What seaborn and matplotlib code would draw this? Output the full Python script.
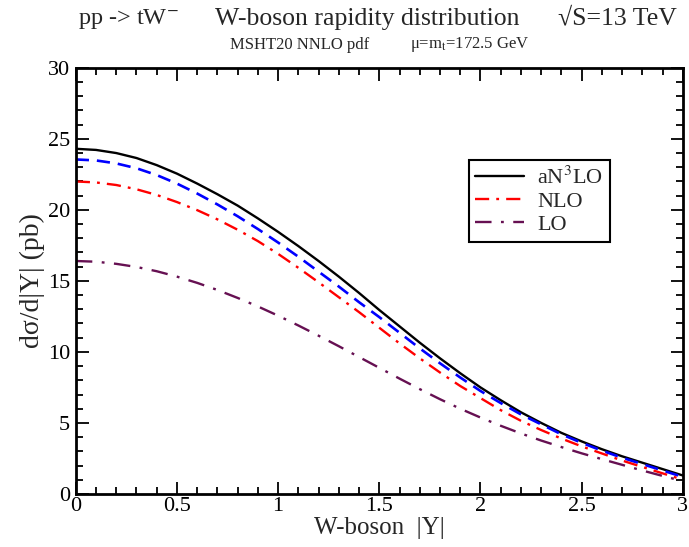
import numpy as np
import pandas as pd
import matplotlib
matplotlib.use("Agg")
import matplotlib.pyplot as plt
import seaborn as sns
from matplotlib.ticker import MultipleLocator, FuncFormatter

y_abs = [0.0, 0.1, 0.2, 0.3, 0.4, 0.5, 0.6, 0.7, 0.8, 0.9, 1.0,
         1.1, 1.2, 1.3, 1.4, 1.5, 1.6, 1.7, 1.8, 1.9, 2.0,
         2.1, 2.2, 2.3, 2.4, 2.5, 2.6, 2.7, 2.8, 2.9, 3.0]

an3lo = [24.3, 24.22, 24.0, 23.65, 23.15, 22.55, 21.85, 21.1, 20.3, 19.4, 18.45,
         17.45, 16.4, 15.3, 14.15, 12.95, 11.8, 10.65, 9.55, 8.5, 7.5,
         6.6, 5.75, 5.0, 4.3, 3.7, 3.15, 2.65, 2.2, 1.75, 1.3]
annlo = [23.55, 23.48, 23.27, 22.93, 22.45, 21.85, 21.15, 20.38, 19.55, 18.65, 17.7,
         16.7, 15.65, 14.6, 13.5, 12.45, 11.35, 10.25, 9.2, 8.2, 7.25,
         6.4, 5.6, 4.9, 4.2, 3.6, 3.05, 2.55, 2.1, 1.65, 1.2]
nlo = [22.0, 21.93, 21.75, 21.45, 21.05, 20.55, 19.98, 19.33, 18.6, 17.8, 16.9,
       15.92, 14.9, 13.85, 12.8, 11.7, 10.6, 9.55, 8.55, 7.6, 6.75,
       5.9, 5.15, 4.5, 3.9, 3.35, 2.85, 2.35, 1.9, 1.45, 1.0]
lo = [16.4, 16.35, 16.2, 15.98, 15.68, 15.3, 14.86, 14.36, 13.8, 13.2, 12.55,
      11.86, 11.14, 10.4, 9.64, 8.88, 8.12, 7.38, 6.67, 6.0, 5.38,
      4.8, 4.26, 3.76, 3.3, 2.86, 2.45, 2.05, 1.65, 1.27, 0.9]

sns.set_style("ticks")
plt.rcParams['font.family'] = ['Liberation Serif', 'DejaVu Serif']
plt.rcParams['mathtext.fontset'] = 'stix'

fig = plt.figure(figsize=(6.89, 5.47), dpi=100)
ax = fig.add_axes([0.110, 0.097, 0.881, 0.779])

df = pd.DataFrame({"Y": y_abs, "aN3LO": an3lo, "aNNLO": annlo, "NLO": nlo, "LO": lo})

sns.lineplot(data=df, x="Y", y="aN3LO", ax=ax, color="black", linewidth=1.7,
             label=r"aN$^{3}$LO")
sns.lineplot(data=df, x="Y", y="aNNLO", ax=ax, color="#0000ff", linewidth=1.9,
             label="_nolegend_")
ax.lines[-1].set_dashes([5, 3])
sns.lineplot(data=df, x="Y", y="NLO", ax=ax, color="#ff0000", linewidth=1.7, label="NLO")
ax.lines[-1].set_dashes([6, 3, 1.2, 3])
sns.lineplot(data=df, x="Y", y="LO", ax=ax, color="#661052", linewidth=1.7, label="LO")
ax.lines[-1].set_dashes([7, 4, 1.2, 4])

ax.set_xlim(0, 3)
ax.set_ylim(0, 30)
ax.xaxis.set_major_locator(MultipleLocator(0.5))
ax.xaxis.set_minor_locator(MultipleLocator(0.1))
ax.yaxis.set_major_locator(MultipleLocator(5))
ax.yaxis.set_minor_locator(MultipleLocator(1))
ax.xaxis.set_major_formatter(FuncFormatter(lambda v, p: f"{v:g}"))
ax.yaxis.set_major_formatter(FuncFormatter(lambda v, p: f"{v:g}"))
ax.tick_params(which="both", direction="in", top=True, right=True, width=1.3,
               labelsize=16, colors="black")
ax.tick_params(which="major", length=9, pad=2)
ax.tick_params(which="minor", length=5)
ax.tick_params(axis="y", which="major", pad=4)
for s in ax.spines.values():
    s.set_linewidth(2)
    s.set_color("black")

ax.set_xlabel("W-boson  |Y|", fontsize=18, labelpad=1)
ax.set_ylabel("dσ/d|Y| (pb)", fontsize=20, labelpad=2)

handles, labels = ax.get_legend_handles_labels()
leg = ax.legend(handles, labels, loc="upper left", bbox_to_anchor=(0.647, 0.784),
                borderaxespad=0, fontsize=16, frameon=True, fancybox=False,
                edgecolor="black", framealpha=1, borderpad=0.3, handlelength=2.2,
                labelspacing=0.12, handletextpad=0.6)
leg.get_frame().set_linewidth(1.5)

fig.text(0.186, 0.966, r"pp -> tW$^{-}$", fontsize=17.5, ha="center", va="center")
fig.text(0.533, 0.966, "W-boson rapidity distribution", fontsize=18.5, ha="center", va="center")
fig.text(0.896, 0.966, "√S=13 TeV", fontsize=18.5, ha="center", va="center")
fig.text(0.435, 0.918, "MSHT20 NNLO pdf", fontsize=12, ha="center", va="center")
fig.text(0.682, 0.918, r"μ=m$_{\rm t}$=172.5 GeV", fontsize=12, ha="center", va="center")

fig.savefig("out.png", dpi=100)
